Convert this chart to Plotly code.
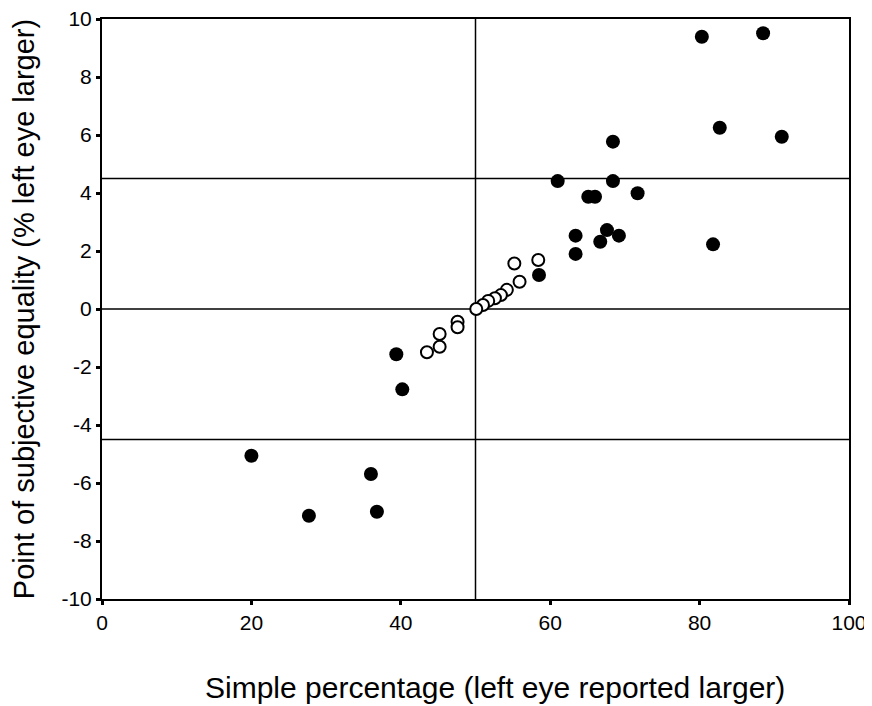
import plotly.graph_objects as go

# Filled circles
filled_x = [20.0, 27.7, 36.0, 36.8, 39.4, 40.2, 58.5, 61.0, 63.4, 63.4, 65.1, 66.0,
            66.7, 67.6, 68.4, 68.4, 69.2, 71.7, 80.3, 88.5, 82.7, 91.0, 81.8]
filled_y = [-5.06, -7.13, -5.69, -6.99, -1.56, -2.77, 1.17, 4.41, 2.53, 1.90, 3.87, 3.87,
            2.32, 2.72, 5.77, 4.41, 2.53, 3.99, 9.39, 9.51, 6.25, 5.94, 2.23]

# Open circles
open_x = [58.4, 55.2, 55.9, 54.2, 53.4, 52.6, 51.7, 51.0, 50.1, 47.6, 47.6, 45.2, 45.2, 43.5]
open_y = [1.69, 1.57, 0.94, 0.66, 0.48, 0.37, 0.28, 0.14, 0.0, -0.44, -0.63, -0.86, -1.30, -1.49]

# Reference lines
ref_h = [-4.5, 0, 4.5]
ref_v = [50]

x_ticks = [0, 20, 40, 60, 80, 100]
y_ticks = [-10, -8, -6, -4, -2, 0, 2, 4, 6, 8, 10]

x_title = "Simple percentage (left eye reported larger)"
y_title = "Point of subjective equality (% left eye larger)"

FONT = "Liberation Sans, Arial, sans-serif"

fig = go.Figure()

for yv in ref_h:
    fig.add_hline(y=yv, line=dict(color="black", width=1.5), layer="below")
for xv in ref_v:
    fig.add_vline(x=xv, line=dict(color="black", width=1.5), layer="below")

fig.add_trace(go.Scatter(
    x=open_x, y=open_y, mode="markers",
    marker=dict(symbol="circle", size=12, color="white",
                line=dict(color="black", width=2)),
    showlegend=False, cliponaxis=False))

fig.add_trace(go.Scatter(
    x=filled_x, y=filled_y, mode="markers",
    marker=dict(symbol="circle", size=14, color="black",
                line=dict(color="black", width=0)),
    showlegend=False, cliponaxis=False))

# page body has an 8px default margin, so the figure is sized to fit the window
fig.update_layout(
    width=864, height=698,
    margin=dict(l=94, r=23, t=11, b=107, autoexpand=False),
    paper_bgcolor="white", plot_bgcolor="white",
    font=dict(family=FONT, color="black", size=21),
)

# x-axis title (slightly right of centre, as in the original)
fig.add_annotation(
    text=x_title, xref="paper", yref="paper", x=0.526, y=-0.153,
    xanchor="center", yanchor="middle", showarrow=False,
    font=dict(size=30, family=FONT, color="black"))

fig.update_xaxes(
    range=[0, 100], tickvals=x_ticks, ticktext=[str(v) for v in x_ticks],
    showgrid=False, zeroline=False, automargin=False, ticklabeloverflow="allow",
    showline=True, linecolor="black", linewidth=2, mirror=True,
    ticks="outside", ticklen=4, tickwidth=3, tickcolor="black",
    tickfont=dict(size=21, family=FONT),
)
fig.update_yaxes(
    range=[-10, 10], tickvals=y_ticks, ticktext=[str(v) for v in y_ticks],
    showgrid=False, zeroline=False, automargin=False, ticklabeloverflow="allow",
    showline=True, linecolor="black", linewidth=2, mirror=True,
    ticks="outside", ticklen=4, tickwidth=3, tickcolor="black",
    tickfont=dict(size=21, family=FONT),
    title=dict(text=y_title, font=dict(size=29, family=FONT), standoff=26),
)

fig.write_html("out.html")
